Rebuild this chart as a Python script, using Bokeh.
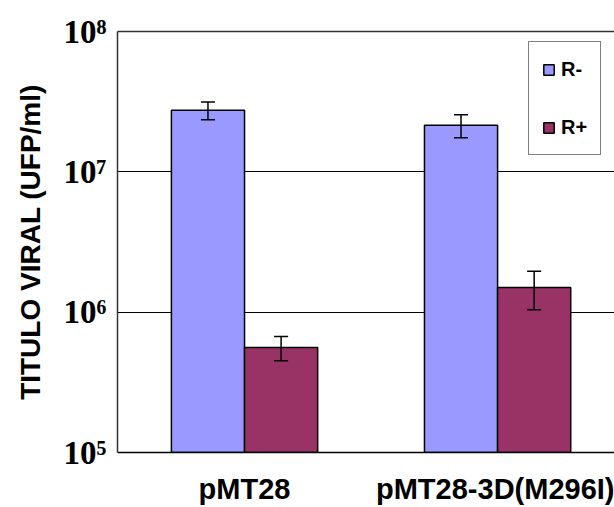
from bokeh.plotting import figure
from bokeh.models import (ColumnDataSource, Range1d, FixedTicker, LinearAxis,
                          Whisker, TeeHead, Legend, LegendItem)
from bokeh.embed import file_html
from bokeh.resources import INLINE
import numpy as np

categories = ["pMT28", "pMT28-3D(M296I)"]
series = ["R-", "R+"]
r_minus = [2.75e7, 2.15e7]
r_minus_err = [0.4e7, 0.4e7]
r_plus = [5.6e5, 1.5e6]
r_plus_err = [1.1e5, 0.46e6]
y_ticks = [1e5, 1e6, 1e7, 1e8]
y_tick_labels = ["10\u2075", "10\u2076", "10\u2077", "10\u2078"]
colors = ["#9999FF", "#993366"]

W, H = 614, 507
p = figure(width=W, height=H, y_axis_type="log", output_backend="svg",
           toolbar_location=None, x_range=Range1d(-0.502, 1.462),
           y_range=Range1d(1e5, 1e8), min_border_left=117, min_border_top=31,
           min_border_bottom=54, min_border_right=0, outline_line_color=None)
p.background_fill_color = "white"
p.border_fill_color = "white"

idx = np.arange(len(categories))
bw = 0.289
vals = [r_minus, r_plus]
errs = [r_minus_err, r_plus_err]
offs = [-bw / 2, bw / 2]
renderers = []
for s, v, e, off, c in zip(series, vals, errs, offs, colors):
    v = np.array(v); e = np.array(e)
    src = ColumnDataSource(dict(x=idx + off, top=v, upper=v + e, lower=v - e))
    r = p.vbar(x="x", top="top", bottom=y_ticks[0], width=bw, source=src,
               fill_color=c, line_color="black", line_width=1.5)
    renderers.append(r)
    wh = Whisker(source=src, base="x", upper="upper", lower="lower",
                 line_color="black", line_width=1.5, level="overlay",
                 upper_head=TeeHead(size=14, line_color="black", line_width=1.5),
                 lower_head=TeeHead(size=14, line_color="black", line_width=1.5))
    p.add_layout(wh)

# y axis
ya = p.yaxis[0]
ya.ticker = FixedTicker(ticks=y_ticks)
ya.major_label_overrides = {int(t): l for t, l in zip(y_ticks, y_tick_labels)}
ya.major_label_text_font = "Liberation Serif"
ya.major_label_text_font_style = "bold"
ya.major_label_text_font_size = "33px"
ya.major_label_text_color = "black"
ya.major_label_standoff = 5
ya.major_tick_line_color = None
ya.minor_tick_line_color = None
ya.axis_line_color = "#333333"
ya.axis_line_width = 1.5
ya.axis_label = "TITULO VIRAL (UFP/ml)"
ya.axis_label_text_font = "Liberation Sans"
ya.axis_label_text_font_style = "bold"
ya.axis_label_text_font_size = "28px"
ya.axis_label_text_color = "black"
ya.axis_label_standoff = 15

# x axis
xa = p.xaxis[0]
xa.ticker = FixedTicker(ticks=list(idx))
xa.major_label_overrides = {int(i): c for i, c in zip(idx, categories)}
xa.major_label_text_font = "Liberation Sans"
xa.major_label_text_font_style = "bold"
xa.major_label_text_font_size = "29px"
xa.major_label_text_color = "black"
xa.major_label_standoff = 14
xa.major_tick_line_color = None
xa.minor_tick_line_color = None
xa.axis_line_color = "black"
xa.axis_line_width = 1.5

# top border
top = LinearAxis(ticker=FixedTicker(ticks=[]), major_label_text_font_size="0px",
                 major_tick_line_color=None, minor_tick_line_color=None,
                 axis_line_color="#333333", axis_line_width=1.5)
p.add_layout(top, "above")

p.xgrid.grid_line_color = None
p.ygrid.ticker = FixedTicker(ticks=y_ticks[1:3])
p.ygrid.grid_line_color = "black"
p.ygrid.grid_line_width = 1

legend = Legend(items=[LegendItem(label=s, renderers=[r]) for s, r in zip(series, renderers)],
                location=(411, 297), orientation="vertical",
                padding=13, spacing=30, glyph_width=13, glyph_height=13,
                label_height=28, label_standoff=6,
                label_text_font="Liberation Sans", label_text_font_style="bold",
                label_text_font_size="20px", label_text_color="black",
                border_line_color="black", border_line_width=1,
                background_fill_color="white", background_fill_alpha=1, margin=0)
p.add_layout(legend)

open("out.html", "w").write(file_html(p, INLINE))
